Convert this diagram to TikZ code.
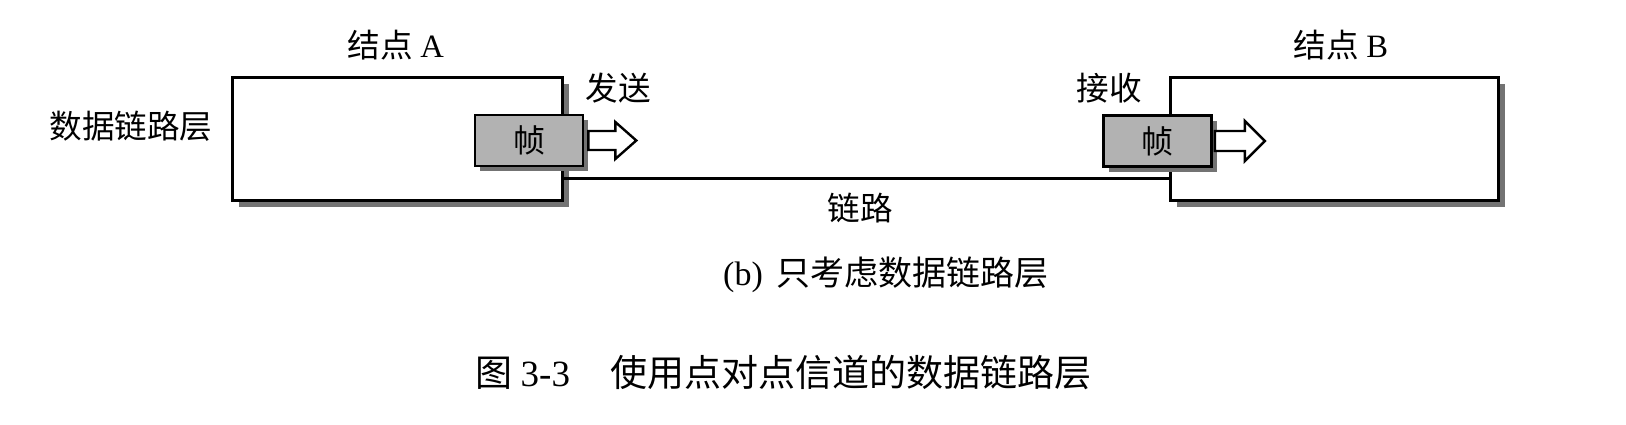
\documentclass[tikz,border=0pt]{standalone}
\usepackage{fontspec}
\setmainfont{Liberation Serif}
\newfontfamily\cjk{Noto Sans CJK SC}
\usetikzlibrary{shadows}

\begin{document}
\begin{tikzpicture}[x=0.5pt,y=-0.5pt]
        \tikzstyle{every node}=[inner sep=0pt, text=black]
        \tikzstyle{nodebox}=[rectangle, draw=black, fill=white, line width=1.5pt, minimum width=165pt, minimum height=61.5pt, general shadow={fill=black!55, shadow xshift=3.5pt, shadow yshift=-3.5pt}]
        \tikzstyle{framebox}=[rectangle, draw=black, fill=black!30, line width=1.3pt, minimum width=54pt, minimum height=25.5pt, font=\cjk\fontsize{16}{18}\selectfont, general shadow={fill=black!55, shadow xshift=2.5pt, shadow yshift=-2.5pt}]
        \tikzstyle{link}=[black, line width=1.5pt]
        \tikzstyle{openarrow}=[draw=black, fill=white, line width=1.2pt, line join=miter]
        \tikzstyle{txt}=[font=\cjk\fontsize{16.3}{18}\selectfont]

        \useasboundingbox (0,0) rectangle (1626,424);

        \node[nodebox] (A) at (397,138.5) {};
        \node[nodebox, minimum width=164pt] (B) at (1334,138.5) {};

        \draw[link] ([yshift=11.5pt]A.south east) -- ([yshift=11.5pt]B.south west);

        \node[framebox] (fa) at (529,140.5)  {帧};
        \node[framebox] (fb) at (1157.5,141) {帧};

        \draw[openarrow] ([xshift=2pt]fa.east) ++(0,-9.5) -- ++(27,0) -- ++(0,-9) -- ++(21,18.5) -- ++(-21,18.5) -- ++(0,-9) -- ++(-27,0) -- cycle;
        \draw[openarrow] ([xshift=1pt]fb.east) ++(0,-10) -- ++(30,0) -- ++(0,-10) -- ++(20,20) -- ++(-20,20) -- ++(0,-10) -- ++(-30,0) -- cycle;

        \node[txt] (dl)   at (131,126)  {数据链路层};
        \node[txt] (na)   at (396,45)   {结点 {\rmfamily A}};
        \node[txt] (nb)   at (1341,45)  {结点 {\rmfamily B}};
        \node[txt] (send) at (618,88)   {发送};
        \node[txt] (recv) at (1109,88)  {接收};
        \node[txt] (lk)   at (860,208)  {链路};
        \node[txt, font=\cjk\fontsize{17}{19}\selectfont] (sub) at (886,275) {{\rmfamily (b)}\hspace{7pt}只考虑数据链路层};
        \node[txt, font=\cjk\fontsize{18.5}{20}\selectfont, anchor=west] (cap) at (475,373) {图 {\rmfamily 3-3}\hspace{20pt}使用点对点信道的数据链路层};
    \end{tikzpicture}
\end{document}
